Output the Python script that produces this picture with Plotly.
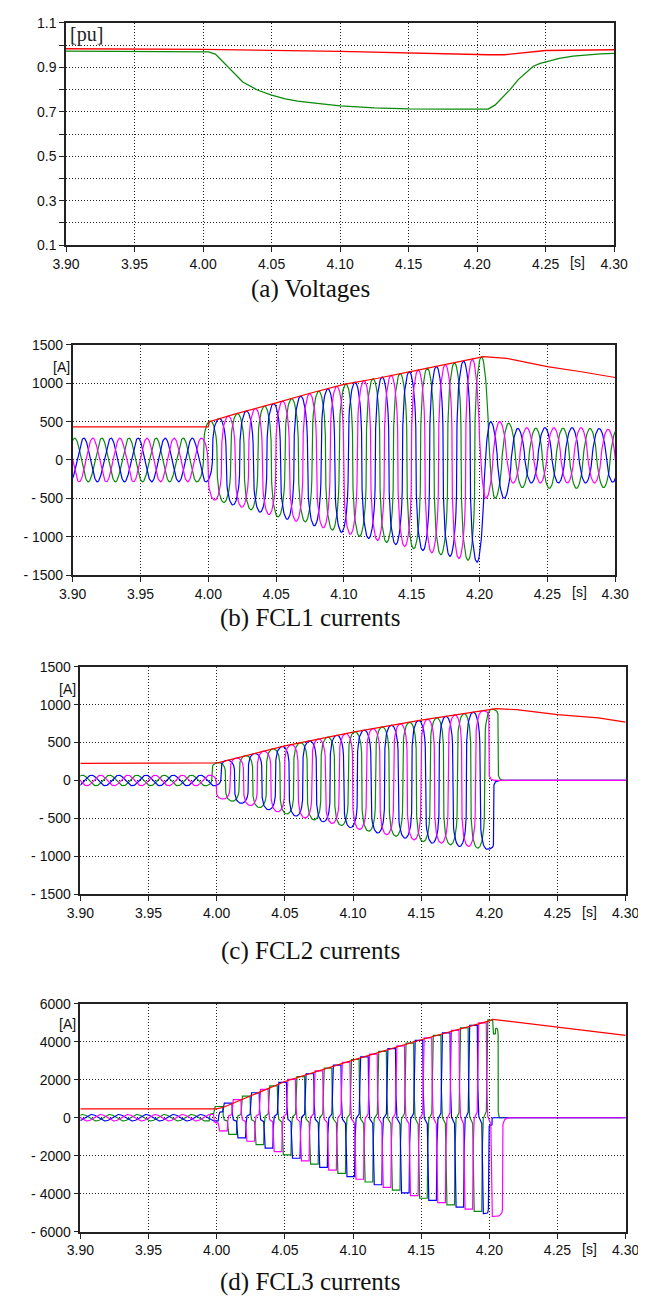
import numpy as np
import plotly.graph_objects as go

W, H = 646, 1297

# ---------------- axis ticks ----------------
x_ticks = [3.90, 3.95, 4.00, 4.05, 4.10, 4.15, 4.20, 4.25, 4.30]
x_ticktext = ["3.90", "3.95", "4.00", "4.05", "4.10", "4.15", "4.20", "4.25", "4.30"]

pu_ticks = [0.1, 0.2, 0.3, 0.4, 0.5, 0.6, 0.7, 0.8, 0.9, 1.0, 1.1]
pu_ticktext = ["0.1", "", "0.3", "", "0.5", "", "0.7", "", "0.9", "", "1.1"]

a1500_ticks = [-1500, -1000, -500, 0, 500, 1000, 1500]
a1500_text = ["- 1500", "- 1000", "- 500", "0", "500", "1000", "1500"]
a6000_ticks = [-6000, -4000, -2000, 0, 2000, 4000, 6000]
a6000_text = ["- 6000", "- 4000", "- 2000", "0", "2000", "4000", "6000"]

captions = ["(a) Voltages", "(b) FCL1 currents", "(c) FCL2 currents", "(d) FCL3 currents"]

# ---------------- (a) voltages ----------------
volt_t = [3.90, 4.000, 4.004, 4.009, 4.017, 4.023, 4.029, 4.040, 4.050, 4.060, 4.069, 4.080,
          4.100, 4.125, 4.150, 4.180, 4.208, 4.213, 4.218, 4.224, 4.230, 4.236, 4.241, 4.246,
          4.250, 4.260, 4.270, 4.280, 4.290, 4.300]
volt_green = [0.973, 0.973, 0.970, 0.960, 0.909, 0.870, 0.834, 0.797, 0.775, 0.758, 0.748, 0.740,
              0.727, 0.718, 0.713, 0.712, 0.712, 0.730, 0.760, 0.800, 0.845, 0.880, 0.905, 0.918,
              0.925, 0.940, 0.951, 0.957, 0.961, 0.963]
volt_red_t = [3.90, 4.00, 4.10, 4.15, 4.208, 4.22, 4.25, 4.30]
volt_red = [0.984, 0.981, 0.972, 0.964, 0.957, 0.957, 0.976, 0.979]

# ---------------- (b) FCL1 currents: extrema per half-cycle ----------------
fcl1_green_pre = [-285, 285, -285, 285, -285, 285, -285, 285, -285, 285, -285]
fcl1_green_fault = [507, -554, 605, -649, 702, -743, 799, -807, 896, -914, 990, -996, 1058, -1076,
                    1126, -1156, 1195, -1237, 1265, -1308, 1345]
fcl1_green_post = [-500, 480, -360, 415, -370, 415, -370, 410, -360, 400]
fcl1_blue_pre = [-285, 285, -285, 285, -285, 285, -285, 285, -285, 285, -285]
fcl1_blue_fault = [540, -586, 638, -680, 735, -772, 832, -857, 928, -942, 1013, -1023, 1081, -1103,
                   1149, -1182, 1219, -1257, 1289, -1333]
fcl1_blue_post = [500, -500, 410, -300, 420, -300, 420, -300, 410, -290, 400]
fcl1_mag_pre = [285, -285, 285, -285, 285, -285, 285, -285, 285, -285, 285]
fcl1_mag_fault = [-523, 572, -617, 670, -711, 768, -800, 864, -886, 960, -969, 1035, -1049, 1103,
                  -1129, 1172, -1210, 1242, -1284, 1312]
fcl1_mag_post = [-500, 500, -300, 420, -300, 420, -300, 420, -300, 400, -300]
fcl1_red_t = [3.90, 4.000, 4.0008, 4.02, 4.05, 4.075, 4.10, 4.125, 4.15, 4.175, 4.20, 4.203,
              4.22, 4.25, 4.275, 4.30]
fcl1_red = [431, 431, 500, 600, 744, 870, 985, 1065, 1155, 1245, 1330, 1348, 1325, 1217, 1150, 1075]

# ---------------- (c) FCL2 currents ----------------
fcl2_green_pre = [-70, 70, -70, 70, -70, 70, -70, 70, -70, 70, -70]
fcl2_green_fault = [237, -274, 328, -358, 418, -442, 499, -520, 572, -594, 644, -670, 707, -738,
                    769, -808, 828, -850, 884, -894, 940]
fcl2_green_post = [0, 0, 0, 0, 0, 0, 0, 0, 0, 0]
fcl2_blue_pre = [-70, 70, -70, 70, -70, 70, -70, 70, -70, 70, -70]
fcl2_blue_fault = [267, -302, 358, -386, 449, -470, 524, -546, 597, -622, 665, -693, 729, -762,
                   792, -828, 847, -872, 902, -909]
fcl2_blue_post = [0, 0, 0, 0, 0, 0, 0, 0, 0, 0, 0]
fcl2_mag_pre = [70, -70, 70, -70, 70, -70, 70, -70, 70, -70, 70]
fcl2_mag_fault = [-246, 297, -330, 388, -414, 474, -494, 548, -568, 620, -647, 686, -716, 749,
                  -785, 809, -828, 866, -872, 921]
fcl2_mag_post = [0, 0, 0, 0, 0, 0, 0, 0, 0, 0, 0]
fcl2_red_t = [3.90, 4.000, 4.0008, 4.05, 4.10, 4.15, 4.20, 4.205, 4.22, 4.25, 4.28, 4.30]
fcl2_red = [226, 226, 232, 457, 639, 796, 935, 948, 935, 870, 826, 770]

# ---------------- (d) FCL3 currents ----------------
fcl3_green_pre = [-170, 170, -170, 170, -170, 170, -170, 170, -170, 170, -170]
fcl3_green_fault = [590, -873, 1133, -1418, 1675, -1958, 2164, -2443, 2614, -2927, 3062, -3381,
                    3492, -3811, 3921, -4234, 4331, -4580, 4726, -4925, 5150]
fcl3_green_post = [4400, 4700, 0, 0, 0, 0, 0, 0, 0, 0, 0, 0, 0, 0, 0, 0, 0, 0, 0, 0, 0, 0,
                   0, 0, 0, 0, 0, 0, 0, 0, 0, 0, 0, 0, 0, 0, 0, 0, 0, 0, 0, 0, 0, 0, 0, 0, 0, 0]
fcl3_blue_pre = [-170, 170, -170, 170, -170, 170, -170, 170, -170, 170, -170]
fcl3_blue_fault = [772, -1056, 1314, -1601, 1856, -2130, 2314, -2616, 2764, -3100, 3206, -3525,
                   3636, -3955, 4065, -4350, 4466, -4697, 4860, -5043]
fcl3_blue_post = [-400, 0, 0, 0, 0, 0, 0, 0, 0, 0, 0, 0, 0, 0, 0, 0, 0, 0, 0, 0, 0, 0, 0, 0,
                  0, 0, 0, 0, 0, 0, 0, 0, 0, 0, 0]
fcl3_mag_pre = [170, -170, 170, -170, 170, -170, 170, -170, 170, -170, 170]
fcl3_mag_fault = [-691, 951, -1236, 1493, -1784, 2013, -2269, 2463, -2754, 2913, -3235, 3348,
                  -3666, 3778, -4098, 4199, -4465, 4594, -4812, 4989, -5195]
fcl3_mag_post = [0, 0, 0, 0, 0, 0, 0, 0, 0, 0]
fcl3_red_t = [3.90, 4.000, 4.005, 4.05, 4.10, 4.15, 4.20, 4.2025, 4.30]
fcl3_red = [468, 468, 550, 1905, 3030, 4104, 5091, 5177, 4329]

GREEN, BLUE, MAG, RED = "#0a8a0a", "#0000ff", "#ff00ff", "#ff0000"


def shape_w(u, kind):
    c = np.cos(np.pi * u)
    if kind == "sine":
        return c
    if kind == "sq35":
        return np.sign(c) * np.abs(c) ** 0.35
    if kind == "soft":
        return np.sign(c) * np.abs(c) ** 0.7
    if kind == "sq12":
        return np.sign(c) * np.abs(c) ** 0.2
    if kind == "edge":
        return np.sign(c) * np.abs(c) ** 0.05
    if kind == "step3":
        return np.interp(u, [0, 0.30, 0.35, 0.65, 0.70, 1.0], [1, 1, 0.05, -0.05, -1, -1])
    return c


def build(segments, n=28):
    et, ev, ek = [], [], []
    for t0, dt, vals, kind in segments:
        for i, v in enumerate(vals):
            et.append(t0 + i * dt)
            ev.append(v)
            ek.append(kind)
    ts, vs = [et[0]], [ev[0]]
    u = np.linspace(0, 1, n)[1:]
    for i in range(1, len(et)):
        a, b = ev[i - 1], ev[i]
        w = shape_w(u, ek[i])
        ts.extend(list(et[i - 1] + u * (et[i] - et[i - 1])))
        vs.extend(list(a * (1 + w) / 2 + b * (1 - w) / 2))
    return ts, vs


HC = 0.01  # half period of 50 Hz

panels = {
    2: [
        (GREEN, [(3.8915, HC, fcl1_green_pre, "sine"), (4.0015, HC, fcl1_green_fault, "sq35"),
                 (4.2115, HC, fcl1_green_post, "soft")]),
        (BLUE, [(3.8982, HC, fcl1_blue_pre, "sine"), (4.0082, HC, fcl1_blue_fault, "sq35"),
                (4.2082, HC, fcl1_blue_post, "soft")]),
        (MAG, [(3.8948, HC, fcl1_mag_pre, "sine"), (4.0048, HC, fcl1_mag_fault, "sq35"),
               (4.2048, HC, fcl1_mag_post, "soft")]),
        (RED, (fcl1_red_t, fcl1_red)),
    ],
    3: [
        (GREEN, [(3.8915, HC, fcl2_green_pre, "sine"), (4.0015, HC, fcl2_green_fault, "sq12"),
                 (4.2115, HC, fcl2_green_post, "edge")]),
        (BLUE, [(3.8982, HC, fcl2_blue_pre, "sine"), (4.0082, HC, fcl2_blue_fault, "sq12"),
                (4.2082, HC, fcl2_blue_post, "edge")]),
        (MAG, [(3.8948, HC, fcl2_mag_pre, "sine"), (4.0048, HC, fcl2_mag_fault, "sq12"),
               (4.2048, HC, fcl2_mag_post, "edge")]),
        (RED, (fcl2_red_t, fcl2_red)),
    ],
    4: [
        (GREEN, [(3.8915, HC, fcl3_green_pre, "sine"), (4.0015, HC, fcl3_green_fault, "step3"),
                 (4.2035, 0.002, fcl3_green_post, "edge")]),
        (BLUE, [(3.8982, HC, fcl3_blue_pre, "sine"), (4.0082, HC, fcl3_blue_fault, "step3"),
                (4.2005, 0.003, fcl3_blue_post, "edge")]),
        (MAG, [(3.8948, HC, fcl3_mag_pre, "sine"), (4.0048, HC, fcl3_mag_fault, "step3"),
               (4.2148, HC, fcl3_mag_post, "edge")]),
        (RED, (fcl3_red_t, fcl3_red)),
    ],
}

fig = go.Figure()

# panel (a)
fig.add_trace(go.Scatter(x=volt_t, y=volt_green, mode="lines", line=dict(color=GREEN, width=1.3),
                         xaxis="x", yaxis="y", showlegend=False, hoverinfo="skip"))
fig.add_trace(go.Scatter(x=volt_red_t, y=volt_red, mode="lines", line=dict(color=RED, width=1.4),
                         xaxis="x", yaxis="y", showlegend=False, hoverinfo="skip"))

for k, series in panels.items():
    for color, spec in series:
        if color == RED:
            xs, ys = spec
        else:
            xs, ys = build(spec)
        fig.add_trace(go.Scatter(x=xs, y=ys, mode="lines", line=dict(color=color, width=1.2),
                                 xaxis=f"x{k}", yaxis=f"y{k}", showlegend=False, hoverinfo="skip"))

# ---------------- layout ----------------
boxes = {  # left, right, top, bottom in pixels
    1: (46, 619, 7, 232),
    2: (53, 620, 333, 566),
    3: (61, 631, 659, 889),
    4: (61, 631, 1000, 1231),
}
tickfont = dict(family="Arial, Liberation Sans, sans-serif", size=14, color="#111")
grid = dict(showgrid=True, gridcolor="#222", griddash="1px,2px", gridwidth=1)
frame = dict(showline=True, linecolor="#222", linewidth=1.5, mirror=True, ticks="outside",
             ticklen=5, tickcolor="#222", tickwidth=1.3, zeroline=False, tickfont=tickfont)

layout = dict(width=W, height=H, margin=dict(l=0, r=0, t=0, b=0),
              paper_bgcolor="white", plot_bgcolor="white", showlegend=False)
yspecs = {
    1: dict(range=[0.1, 1.1], tickvals=pu_ticks, ticktext=pu_ticktext),
    2: dict(range=[-1500, 1500], tickvals=a1500_ticks, ticktext=a1500_text),
    3: dict(range=[-1500, 1500], tickvals=a1500_ticks, ticktext=a1500_text),
    4: dict(range=[-6000, 6000], tickvals=a6000_ticks, ticktext=a6000_text),
}
for k, (l, r, t, b) in boxes.items():
    sx = "" if k == 1 else str(k)
    layout[f"xaxis{sx}"] = dict(domain=[l / W, r / W], range=[3.90, 4.30], tickvals=x_ticks,
                                ticktext=x_ticktext, anchor=f"y{sx}", **grid, **frame)
    layout[f"yaxis{sx}"] = dict(domain=[1 - b / H, 1 - t / H], anchor=f"x{sx}",
                                **yspecs[k], **grid, **frame)

annotations = []
serif = "Times New Roman, Liberation Serif, serif"
cap_y = [276, 610, 947, 1282]
for txt, y in zip(captions, cap_y):
    annotations.append(dict(text=txt, x=302 / W, y=1 - y / H, xref="paper", yref="paper",
                            showarrow=False, xanchor="center", yanchor="middle",
                            font=dict(family=serif, size=25, color="#111")))
annotations.append(dict(text="[pu]", x=67 / W, y=1 - 19 / H, xref="paper", yref="paper",
                        showarrow=False, xanchor="center", yanchor="middle",
                        font=dict(family=serif, size=20, color="#222")))
for (x, y) in [(41, 355), (48, 681), (48, 1021)]:
    annotations.append(dict(text="[A]", x=x / W, y=1 - y / H, xref="paper", yref="paper",
                            showarrow=False, xanchor="center", yanchor="middle", font=tickfont))
for (x, y) in [(581, 249), (583, 583), (593, 907), (593, 1248)]:
    annotations.append(dict(text="[s]", x=x / W, y=1 - y / H, xref="paper", yref="paper",
                            showarrow=False, xanchor="center", yanchor="middle", font=tickfont))
layout["annotations"] = annotations

fig.update_layout(**layout)
fig.write_html("out.html")
